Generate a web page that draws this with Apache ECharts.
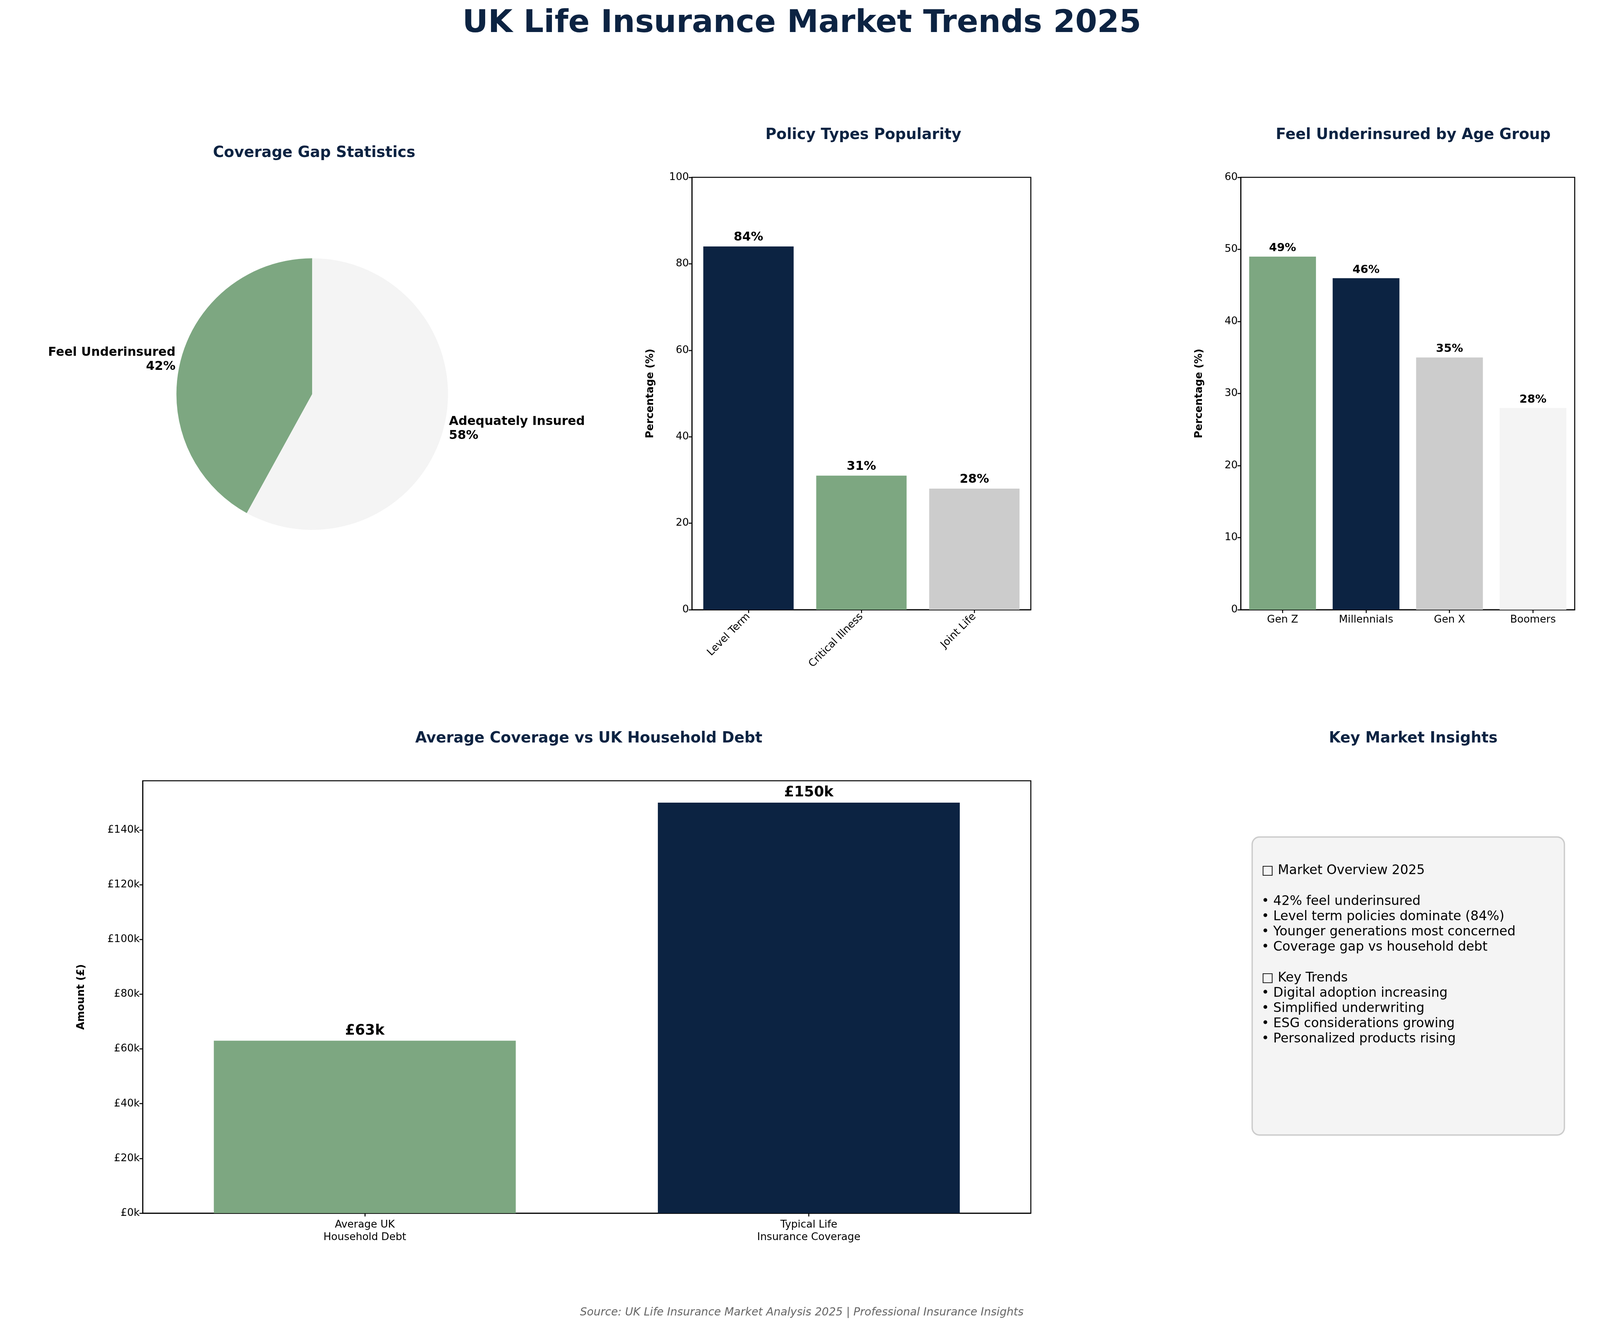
<!DOCTYPE html>
<html><head><meta charset="utf-8">
<script src="https://cdn.jsdelivr.net/npm/echarts@6/dist/echarts.min.js"></script>
<style>html,body{margin:0;padding:0;background:#fff;overflow:hidden}#c{width:100vw;height:100vh}</style>
</head><body><div id="c"></div>
<script>
const pieNames = ['Feel Underinsured', 'Adequately Insured'];
const pieValues = [42, 58];
const policyTypes = ['Level Term', 'Critical Illness', 'Joint Life'];
const policyValues = [84, 31, 28];
const ageGroups = ['Gen Z', 'Millennials', 'Gen X', 'Boomers'];
const ageValues = [49, 46, 35, 28];
const debtCats = ['Average UK\nHousehold Debt', 'Typical Life\nInsurance Coverage'];
const debtValues = [63000, 150000];
const insights = ['□ Market Overview 2025','','• 42% feel underinsured','• Level term policies dominate (84%)','• Younger generations most concerned','• Coverage gap vs household debt','','□ Key Trends','• Digital adoption increasing','• Simplified underwriting','• ESG considerations growing','• Personalized products rising'];

const NAVY='#0c2342', GREEN='#7da781', GREY='#cccccc', LIGHT='#f4f4f4';
const F='DejaVu Sans';
const el=document.getElementById('c');
const W=el.clientWidth, H=el.clientHeight;
const sx=W/4807, sy=H/3418, s=Math.min(sx,sy);
const X=v=>v*sx, Y=v=>v*sy, S=v=>v*s;
const tick={fontFamily:F,fontSize:S(31),color:'#000'};
const axLine={show:true,lineStyle:{color:'#000',width:S(3)}};
const axTick={show:true,length:S(10),lineStyle:{color:'#000',width:S(3)}};
const ttl=(t,x,y)=>({text:t,left:X(x),top:Y(y),textAlign:'center',textStyle:{fontFamily:F,fontSize:S(45),fontWeight:'bold',color:NAVY}});
const valLbl=(fmt,size)=>({show:true,position:'top',distance:S(8),fontFamily:F,fontSize:S(size),fontWeight:'bold',color:'#000',formatter:fmt});
const gridBox={show:true,borderColor:'#000',borderWidth:S(3),backgroundColor:'transparent'};
const yName=(n,gap)=>({name:n,nameLocation:'middle',nameGap:S(gap),nameTextStyle:{fontFamily:F,fontSize:S(31),fontWeight:'bold',color:'#000'}});

const chart = echarts.init(el);
chart.setOption({
  backgroundColor:'#fff',
  animation:false,
  title:[
    {text:'UK Life Insurance Market Trends 2025',left:X(2403),top:Y(15),textAlign:'center',textStyle:{fontFamily:F,fontSize:S(95),fontWeight:'bold',color:NAVY}},
    ttl('Coverage Gap Statistics',938,368),
    ttl('Policy Types Popularity',2588,322),
    ttl('Feel Underinsured by Age Group',4240,322),
    ttl('Average Coverage vs UK Household Debt',1763,1867),
    ttl('Key Market Insights',4240,1867),
    {text:'Source: UK Life Insurance Market Analysis 2025 | Professional Insurance Insights',left:X(2403),top:Y(3342),textAlign:'center',textStyle:{fontFamily:F,fontSize:S(33),fontStyle:'italic',fontWeight:'normal',color:'#666'}}
  ],
  grid:[
    {...gridBox,left:X(2079),right:X(4807-3097),top:Y(454),bottom:Y(3418-1561)},
    {...gridBox,left:X(3728),right:X(4807-4731),top:Y(454),bottom:Y(3418-1561)},
    {...gridBox,left:X(429),right:X(4807-3097),top:Y(1999),bottom:Y(3418-3106)}
  ],
  xAxis:[
    {gridIndex:0,type:'category',data:policyTypes,axisLine:axLine,axisTick:{...axTick,alignWithLabel:true},axisLabel:{...tick,rotate:45,margin:S(16)}},
    {gridIndex:1,type:'category',data:ageGroups,axisLine:axLine,axisTick:{...axTick,alignWithLabel:true},axisLabel:{...tick,margin:S(16)}},
    {gridIndex:2,type:'category',data:debtCats,axisLine:axLine,axisTick:{...axTick,alignWithLabel:true},axisLabel:{...tick,margin:S(16),lineHeight:S(38)}}
  ],
  yAxis:[
    {gridIndex:0,type:'value',min:0,max:100,interval:20,...yName('Percentage (%)',110),axisLine:axLine,axisTick:axTick,axisLabel:tick,splitLine:{show:false}},
    {gridIndex:1,type:'value',min:0,max:60,interval:10,...yName('Percentage (%)',110),axisLine:axLine,axisTick:axTick,axisLabel:tick,splitLine:{show:false}},
    {gridIndex:2,type:'value',min:0,max:158000,interval:20000,...yName('Amount (£)',170),axisLine:axLine,axisTick:axTick,axisLabel:{...tick,showMaxLabel:false,formatter:v=>'£'+(v/1000)+'k'},splitLine:{show:false}}
  ],
  series:[
    {type:'pie',center:[X(938),Y(1009)],radius:S(408),startAngle:90,clockwise:false,
     data:pieNames.map((n,i)=>({name:n,value:pieValues[i],itemStyle:{color:[GREEN,LIGHT][i]}})),
     label:{show:true,position:'outside',fontFamily:F,fontSize:S(37),fontWeight:'bold',color:'#000',formatter:p=>p.name+'\n'+p.value+'%',lineHeight:S(42)},
     labelLine:{show:false,length:S(10),length2:0},itemStyle:{borderWidth:0}},
    {type:'bar',xAxisIndex:0,yAxisIndex:0,barWidth:'80%',data:policyValues.map((v,i)=>({value:v,itemStyle:{color:[NAVY,GREEN,GREY][i]}})),label:valLbl('{c}%',37)},
    {type:'bar',xAxisIndex:1,yAxisIndex:1,barWidth:'80%',data:ageValues.map((v,i)=>({value:v,itemStyle:{color:[GREEN,NAVY,GREY,LIGHT][i]}})),label:valLbl('{c}%',34)},
    {type:'bar',xAxisIndex:2,yAxisIndex:2,barWidth:'68%',data:debtValues.map((v,i)=>({value:v,itemStyle:{color:[GREEN,NAVY][i]}})),label:valLbl(p=>'£'+(p.value/1000)+'k',43)}
  ],
  graphic:[
    {type:'rect',shape:{x:X(3762),y:Y(2143),width:X(938),height:Y(763),r:S(22)},style:{fill:'#f4f4f4',stroke:'#cccccc',lineWidth:S(4)}},
    {type:'text',x:X(3790),y:Y(2210),style:{text:insights.join('\n'),font:S(39)+'px "DejaVu Sans"',lineHeight:S(46),fill:'#000'}}
  ]
});
</script></body></html>
